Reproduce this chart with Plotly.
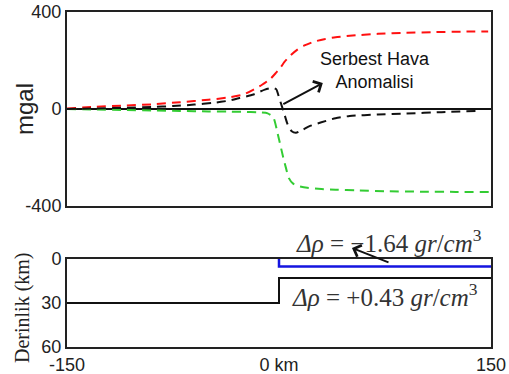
import plotly.graph_objects as go

# ---- data ----
red_x = [-150, -130, -110, -90, -70, -50, -35, -25, -18, -12, -6, -2, 1, 4, 8, 13, 18, 25, 32, 40, 50, 70, 90, 110, 130, 148]
red_y = [2, 9, 14, 19, 28, 38, 48, 60, 80, 100, 125, 150, 170, 195, 220, 245, 262, 278, 288, 296, 302, 310, 314, 317, 319, 320]

green_x = [-150, -130, -110, -90, -70, -50, -35, -25, -15, -8, -4, -1, 1, 3, 5, 7, 10, 14, 20, 30, 40, 55, 75, 100, 125, 150]
green_y = [0, -2, -4, -6, -8, -10, -11, -12, -14, -18, -35, -100, -150, -200, -245, -285, -308, -318, -325, -330, -333, -336, -339, -341, -342, -343]

black_x = [-150, -130, -110, -90, -75, -60, -47, -35, -28, -18, -10, -5, -2, 0, 2, 4, 6, 9, 12, 17, 22, 30, 40, 50, 70, 90, 115, 140]
black_y = [0, 2, 5, 8, 12, 18, 25, 35, 45, 60, 80, 87, 82, 48, 12, -25, -62, -92, -98, -85, -70, -55, -38, -29, -23, -19, -13, -8]

zero_x = [-150, 150]
zero_y = [0, 0]

# lower panel: density model (depth in km)
step_x = [-150, 0, 0, 150]
step_depth = [30, 30, 13, 13]
blue_x = [0, 0, 150]
blue_depth = [0, 5.2, 5.2]

top_ticks = [400, 0, -400]
depth_ticks = [0, 30, 60]
x_ticks = [-150, 0, 150]
x_tick_labels = ["-150", "0 km", "150"]

fig = go.Figure()

dash = "9px,6px"
fig.add_trace(go.Scatter(x=zero_x, y=zero_y, mode="lines", line=dict(color="#111", width=2),
                         xaxis="x", yaxis="y", hoverinfo="skip"))
fig.add_trace(go.Scatter(x=green_x, y=green_y, mode="lines", line=dict(color="#33cc33", width=2, dash=dash, shape="spline", smoothing=0.6),
                         xaxis="x", yaxis="y"))
fig.add_trace(go.Scatter(x=red_x, y=red_y, mode="lines", line=dict(color="#ff1010", width=2, dash=dash, shape="spline", smoothing=0.6),
                         xaxis="x", yaxis="y"))
fig.add_trace(go.Scatter(x=black_x, y=black_y, mode="lines", line=dict(color="#111", width=2, dash=dash, shape="spline", smoothing=0.6),
                         xaxis="x", yaxis="y"))

fig.add_trace(go.Scatter(x=step_x, y=step_depth, mode="lines", line=dict(color="#111", width=2),
                         xaxis="x2", yaxis="y2"))
fig.add_trace(go.Scatter(x=blue_x, y=blue_depth, mode="lines", line=dict(color="#1515e0", width=2.5),
                         xaxis="x2", yaxis="y2"))

axis_font = dict(family="Liberation Sans, Arial", size=18, color="#222")
frame = dict(showline=True, mirror=True, linewidth=2, linecolor="#222", showgrid=False, zeroline=False,
             ticks="", automargin=False)

fig.update_layout(
    width=509, height=374,
    margin=dict(l=67, r=18, t=12, b=27),
    paper_bgcolor="white", plot_bgcolor="white",
    showlegend=False,
    xaxis=dict(domain=[0, 1], range=[-150, 150], showticklabels=False, anchor="y", **frame),
    yaxis=dict(domain=[0.421, 1], range=[-400, 400], tickvals=top_ticks, ticktext=[str(v) for v in top_ticks],
               tickfont=axis_font, anchor="x", **frame),
    xaxis2=dict(domain=[0, 1], range=[-150, 150], tickvals=x_ticks, ticktext=x_tick_labels,
                tickfont=axis_font, anchor="y2", **frame),
    yaxis2=dict(domain=[0, 0.263], range=[60, 0], tickvals=depth_ticks, ticktext=[str(v) for v in depth_ticks],
                tickfont=axis_font, anchor="x2", **frame),
)

# paper coordinates for the lower-panel labels (x: 67..491 px, y: 12..347 px)
def px(xp):
    return (xp - 67) / 424.0

def py(yp):
    return (347 - yp) / 335.0

annotations = [
    dict(text="mgal", xref="paper", yref="y", x=0, y=0, xshift=-42, textangle=-90,
         xanchor="center", yanchor="middle",
         showarrow=False, font=dict(family="Liberation Sans, Arial", size=24, color="#222")),
    dict(text="Derinlik (km)", xref="paper", yref="paper", x=0, y=py(308), xshift=-45, textangle=-90,
         xanchor="center", yanchor="middle",
         showarrow=False, font=dict(family="Liberation Serif, serif", size=20, color="#222")),
    dict(text="Serbest Hava<br>Anomalisi", xref="x", yref="y", x=68, y=157, showarrow=False,
         xanchor="center", yanchor="middle",
         font=dict(family="Liberation Sans, Arial", size=18, color="#111")),
    dict(text="", xref="x", yref="y", x=31, y=107, axref="x", ayref="y", ax=2, ay=17,
         showarrow=True, arrowhead=4, arrowsize=1.2, arrowwidth=2, arrowcolor="#111"),
    dict(text="<i>Δρ</i> = −1.64 <i>gr</i>/<i>cm</i><sup>3</sup>", xref="paper", yref="paper",
         x=px(389), y=py(241), showarrow=False, xanchor="center", yanchor="middle",
         font=dict(family="Liberation Serif, serif", size=25, color="#333")),
    dict(text="", xref="paper", yref="paper", x=px(352), y=py(248), axref="pixel", ayref="pixel", ax=38, ay=15,
         showarrow=True, arrowhead=4, arrowsize=1.2, arrowwidth=2, arrowcolor="#111"),
    dict(text="<i>Δρ</i> = +0.43 <i>gr</i>/<i>cm</i><sup>3</sup>", xref="paper", yref="paper",
         x=px(385), y=py(295), showarrow=False, xanchor="center", yanchor="middle",
         font=dict(family="Liberation Serif, serif", size=25, color="#333")),
]
fig.update_layout(annotations=annotations)

fig.write_html("out.html", config={"displayModeBar": False},
               post_script="document.body.style.margin='0';document.body.style.overflow='hidden';")
